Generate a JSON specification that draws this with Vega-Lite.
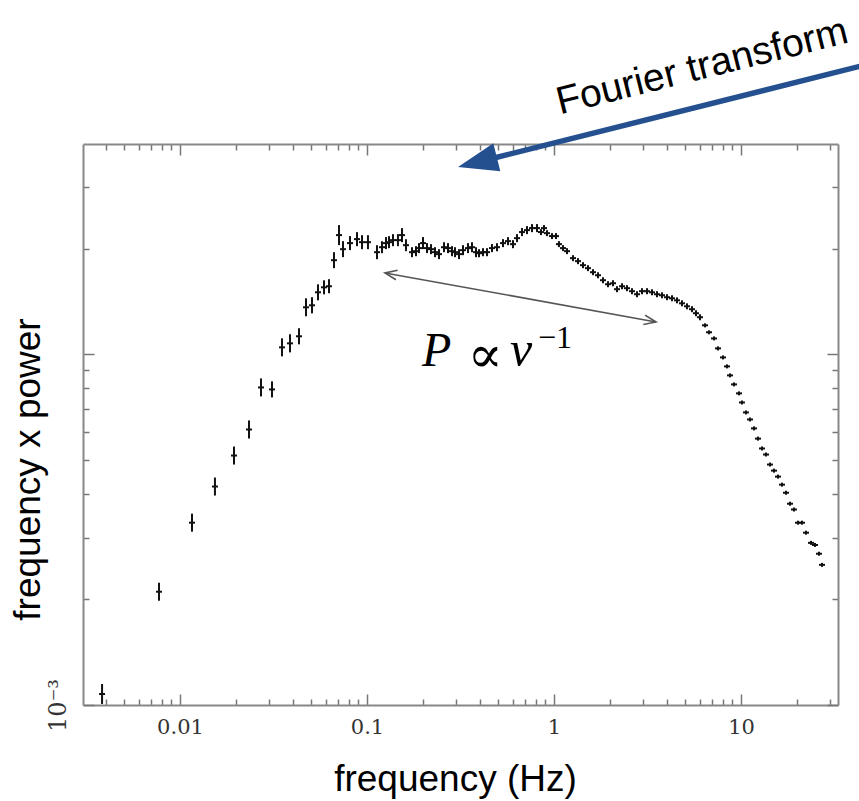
{
"$schema": "https://vega.github.io/schema/vega-lite/v6.json",
"width": 755, "height": 561,
"autosize": {"type": "none"},
"padding": {"left": 83, "top": 144, "right": 21, "bottom": 96},
"background": "white",
"config": {"view": {"stroke": null}},
"resolve": {"axis": {"x": "independent", "y": "independent"}},
"datasets": {"psd": [
{"f":0.00383,"v":0.001075,"lo":0.001007,"hi":0.001148},
{"f":0.00772,"v":0.002104,"lo":0.001983,"hi":0.002232},
{"f":0.01159,"v":0.003311,"lo":0.003121,"hi":0.003513},
{"f":0.01538,"v":0.004198,"lo":0.003957,"hi":0.004454},
{"f":0.01945,"v":0.005146,"lo":0.00485,"hi":0.00546},
{"f":0.02339,"v":0.006105,"lo":0.005754,"hi":0.006477},
{"f":0.02711,"v":0.008047,"lo":0.007584,"hi":0.008538},
{"f":0.03104,"v":0.007943,"lo":0.007535,"hi":0.008373},
{"f":0.03511,"v":0.01047,"lo":0.00987,"hi":0.01111},
{"f":0.03876,"v":0.01075,"lo":0.01013,"hi":0.01141},
{"f":0.04329,"v":0.01126,"lo":0.01068,"hi":0.01187},
{"f":0.04718,"v":0.01362,"lo":0.01284,"hi":0.01445},
{"f":0.0508,"v":0.0138,"lo":0.01309,"hi":0.01455},
{"f":0.0547,"v":0.01503,"lo":0.01426,"hi":0.01584},
{"f":0.05888,"v":0.01553,"lo":0.01483,"hi":0.01626},
{"f":0.06262,"v":0.01564,"lo":0.01494,"hi":0.01638},
{"f":0.06661,"v":0.01856,"lo":0.01761,"hi":0.01956},
{"f":0.07085,"v":0.02188,"lo":0.02049,"hi":0.02337},
{"f":0.0744,"v":0.01995,"lo":0.01893,"hi":0.02103},
{"f":0.08111,"v":0.02076,"lo":0.01983,"hi":0.02174},
{"f":0.08842,"v":0.02131,"lo":0.02035,"hi":0.02231},
{"f":0.09403,"v":0.02089,"lo":0.01995,"hi":0.02187},
{"f":0.1012,"v":0.02089,"lo":0.01995,"hi":0.02187},
{"f":0.1131,"v":0.01956,"lo":0.01868,"hi":0.02048},
{"f":0.1203,"v":0.02021,"lo":0.01943,"hi":0.02102},
{"f":0.1264,"v":0.02076,"lo":0.01996,"hi":0.0216},
{"f":0.1311,"v":0.02089,"lo":0.02008,"hi":0.02173},
{"f":0.1377,"v":0.02117,"lo":0.02035,"hi":0.02202},
{"f":0.1464,"v":0.02117,"lo":0.02035,"hi":0.02202},
{"f":0.1539,"v":0.02188,"lo":0.0209,"hi":0.02291},
{"f":0.1616,"v":0.02048,"lo":0.01969,"hi":0.0213},
{"f":0.174,"v":0.01956,"lo":0.01893,"hi":0.02021},
{"f":0.1828,"v":0.01969,"lo":0.01905,"hi":0.02035},
{"f":0.1897,"v":0.02009,"lo":0.01944,"hi":0.02076},
{"f":0.1993,"v":0.02076,"lo":0.01996,"hi":0.0216},
{"f":0.2094,"v":0.02009,"lo":0.01944,"hi":0.02076},
{"f":0.2199,"v":0.01995,"lo":0.01931,"hi":0.02062},
{"f":0.231,"v":0.01956,"lo":0.01893,"hi":0.02021},
{"f":0.2427,"v":0.01931,"lo":0.01869,"hi":0.01995},
{"f":0.2581,"v":0.02021,"lo":0.01956,"hi":0.02088},
{"f":0.2711,"v":0.02009,"lo":0.01944,"hi":0.02076},
{"f":0.2848,"v":0.01969,"lo":0.01905,"hi":0.02035},
{"f":0.2955,"v":0.01956,"lo":0.01893,"hi":0.02021},
{"f":0.3105,"v":0.01931,"lo":0.01869,"hi":0.01995},
{"f":0.3261,"v":0.01982,"lo":0.01918,"hi":0.02048},
{"f":0.3468,"v":0.02009,"lo":0.01944,"hi":0.02076},
{"f":0.3643,"v":0.02021,"lo":0.01956,"hi":0.02088},
{"f":0.3828,"v":0.01956,"lo":0.01893,"hi":0.02021},
{"f":0.3972,"v":0.01943,"lo":0.01892,"hi":0.01995},
{"f":0.4173,"v":0.01956,"lo":0.01905,"hi":0.02008},
{"f":0.4383,"v":0.01956,"lo":0.01905,"hi":0.02008},
{"f":0.4662,"v":0.02009,"lo":0.01957,"hi":0.02063},
{"f":0.4956,"v":0.02021,"lo":0.01968,"hi":0.02075},
{"f":0.5336,"v":0.02076,"lo":0.02022,"hi":0.02131},
{"f":0.5675,"v":0.02103,"lo":0.02048,"hi":0.02159},
{"f":0.6036,"v":0.02062,"lo":0.02008,"hi":0.02117},
{"f":0.6342,"v":0.02145,"lo":0.02089,"hi":0.02202},
{"f":0.6743,"v":0.02232,"lo":0.02174,"hi":0.02292},
{"f":0.7173,"v":0.02261,"lo":0.02202,"hi":0.02321},
{"f":0.7626,"v":0.02291,"lo":0.02231,"hi":0.02352},
{"f":0.8112,"v":0.02291,"lo":0.02231,"hi":0.02352},
{"f":0.852,"v":0.02232,"lo":0.02188,"hi":0.02276},
{"f":0.8842,"v":0.02291,"lo":0.02246,"hi":0.02337},
{"f":0.9175,"v":0.02216,"lo":0.02173,"hi":0.0226},
{"f":0.9757,"v":0.02174,"lo":0.02132,"hi":0.02217},
{"f":1.025,"v":0.02174,"lo":0.02132,"hi":0.02217},
{"f":1.063,"v":0.02062,"lo":0.02022,"hi":0.02103},
{"f":1.117,"v":0.02009,"lo":0.0197,"hi":0.02049},
{"f":1.174,"v":0.01969,"lo":0.01931,"hi":0.02008},
{"f":1.264,"v":0.01881,"lo":0.01844,"hi":0.01918},
{"f":1.344,"v":0.01844,"lo":0.01808,"hi":0.01881},
{"f":1.429,"v":0.01796,"lo":0.01761,"hi":0.01832},
{"f":1.52,"v":0.01761,"lo":0.01727,"hi":0.01796},
{"f":1.617,"v":0.01715,"lo":0.01682,"hi":0.01749},
{"f":1.719,"v":0.01681,"lo":0.01648,"hi":0.01714},
{"f":1.828,"v":0.01627,"lo":0.01595,"hi":0.01659},
{"f":1.945,"v":0.01585,"lo":0.01554,"hi":0.01617},
{"f":2.068,"v":0.01595,"lo":0.01564,"hi":0.01627},
{"f":2.173,"v":0.01534,"lo":0.01504,"hi":0.01565},
{"f":2.31,"v":0.01564,"lo":0.01533,"hi":0.01595},
{"f":2.457,"v":0.01544,"lo":0.01514,"hi":0.01575},
{"f":2.613,"v":0.01514,"lo":0.01484,"hi":0.01544},
{"f":2.779,"v":0.01484,"lo":0.01455,"hi":0.01514},
{"f":2.955,"v":0.01514,"lo":0.01484,"hi":0.01544},
{"f":3.143,"v":0.01514,"lo":0.01484,"hi":0.01544},
{"f":3.343,"v":0.01503,"lo":0.01474,"hi":0.01533},
{"f":3.555,"v":0.01484,"lo":0.01455,"hi":0.01514},
{"f":3.781,"v":0.01474,"lo":0.01445,"hi":0.01503},
{"f":4.021,"v":0.01455,"lo":0.01427,"hi":0.01484},
{"f":4.276,"v":0.01445,"lo":0.01417,"hi":0.01474},
{"f":4.548,"v":0.01426,"lo":0.01398,"hi":0.01454},
{"f":4.836,"v":0.01398,"lo":0.01371,"hi":0.01426},
{"f":5.143,"v":0.01371,"lo":0.01344,"hi":0.01398},
{"f":5.47,"v":0.01345,"lo":0.01319,"hi":0.01372},
{"f":5.746,"v":0.0131,"lo":0.01284,"hi":0.01336},
{"f":6.036,"v":0.01276,"lo":0.01251,"hi":0.01301},
{"f":6.42,"v":0.0121,"lo":0.01194,"hi":0.01226},
{"f":6.745,"v":0.01156,"lo":0.01141,"hi":0.01171},
{"f":7.173,"v":0.0111,"lo":0.01096,"hi":0.01125},
{"f":7.534,"v":0.0104,"lo":0.01026,"hi":0.01054},
{"f":8.012,"v":0.0098,"lo":0.009672,"hi":0.009929},
{"f":8.418,"v":0.00924,"lo":0.00912,"hi":0.009362},
{"f":8.735,"v":0.00871,"lo":0.008597,"hi":0.008825},
{"f":9.176,"v":0.00821,"lo":0.008103,"hi":0.008318},
{"f":9.757,"v":0.00774,"lo":0.007639,"hi":0.007842},
{"f":10.12,"v":0.00729,"lo":0.007195,"hi":0.007386},
{"f":10.63,"v":0.00683,"lo":0.006741,"hi":0.00692},
{"f":11.17,"v":0.00652,"lo":0.006435,"hi":0.006606},
{"f":11.74,"v":0.00615,"lo":0.00607,"hi":0.006231},
{"f":12.33,"v":0.00575,"lo":0.005675,"hi":0.005826},
{"f":12.95,"v":0.00539,"lo":0.00532,"hi":0.005461},
{"f":13.61,"v":0.00518,"lo":0.005113,"hi":0.005248},
{"f":14.29,"v":0.00485,"lo":0.004787,"hi":0.004914},
{"f":15.01,"v":0.00466,"lo":0.004599,"hi":0.004722},
{"f":15.77,"v":0.00448,"lo":0.004422,"hi":0.004539},
{"f":16.57,"v":0.00425,"lo":0.004195,"hi":0.004306},
{"f":17.4,"v":0.00403,"lo":0.003977,"hi":0.004083},
{"f":18.28,"v":0.00375,"lo":0.003701,"hi":0.0038},
{"f":19.2,"v":0.00361,"lo":0.003563,"hi":0.003658},
{"f":20.17,"v":0.00331,"lo":0.003267,"hi":0.003354},
{"f":21.2,"v":0.00331,"lo":0.003267,"hi":0.003354},
{"f":22.27,"v":0.0031,"lo":0.00306,"hi":0.003141},
{"f":23.68,"v":0.0029,"lo":0.002862,"hi":0.002938},
{"f":24.87,"v":0.00286,"lo":0.002823,"hi":0.002898},
{"f":26.13,"v":0.0027,"lo":0.002665,"hi":0.002736},
{"f":27.12,"v":0.00251,"lo":0.002477,"hi":0.002543}
]},
"layer": [
{
 "data": {"name": "psd"},
 "mark": {"type": "rule", "color": "#111111", "strokeWidth": 2},
 "encoding": {
  "x": {"field": "f", "type": "quantitative",
   "scale": {"type": "log", "domain": [0.003029, 33.02], "nice": false},
   "axis": {"orient": "bottom", "grid": false,
    "values": [0.004,0.005,0.006,0.007,0.008,0.009,0.01,0.02,0.03,0.04,0.05,0.06,0.07,0.08,0.09,0.1,0.2,0.3,0.4,0.5,0.6,0.7,0.8,0.9,1,2,3,4,5,6,7,8,9,10,20,30],
    "labelExpr": "datum.value == 0.01 ? '0.01' : datum.value == 0.1 ? '0.1' : datum.value == 1 ? '1' : datum.value == 10 ? '10' : ''",
    "labelFont": "DejaVu Serif", "labelFontSize": 21, "labelColor": "#333333", "labelPadding": 22,
    "labelOverlap": false, "labelFlush": false, "labelBound": false,
    "tickSize": {"condition": {"test": "datum.value == 0.01 || datum.value == 0.1 || datum.value == 1 || datum.value == 10", "value": -11}, "value": -6},
    "tickColor": "#777777", "tickWidth": 1.5,
    "domainColor": "#888888", "domainWidth": 2,
    "title": "frequency (Hz)", "titleFont": "Liberation Sans", "titleFontSize": 37, "titleFontWeight": "normal", "titleColor": "#000000",
    "titleX": 372, "titleY": 56, "titleBaseline": "top", "titleAlign": "center"}},
  "y": {"field": "lo", "type": "quantitative",
   "scale": {"type": "log", "domain": [0.001, 0.0398], "nice": false},
   "axis": {"orient": "left", "grid": false,
    "values": [0.001,0.002,0.003,0.004,0.005,0.006,0.007,0.008,0.009,0.01,0.02,0.03],
    "labelExpr": "datum.value == 0.001 ? '10⁻³' : ''",
    "labelAngle": 270,
    "labelFont": "DejaVu Serif", "labelFontSize": 24, "labelColor": "#333333", "labelPadding": 24,
    "labelOverlap": false, "labelFlush": false, "labelBound": false,
    "tickSize": {"condition": {"test": "datum.value == 0.001 || datum.value == 0.01", "value": -11}, "value": -6},
    "tickColor": "#777777", "tickWidth": 1.5,
    "domainColor": "#888888", "domainWidth": 2,
    "title": "frequency x power", "titleFont": "Liberation Sans", "titleFontSize": 37, "titleFontWeight": "normal", "titleColor": "#000000",
    "titleX": -36, "titleY": 325, "titleAngle": 270, "titleBaseline": "bottom", "titleAlign": "center"}},
  "y2": {"field": "hi"}
 }
},
{
 "data": {"name": "psd"},
 "mark": {"type": "point", "shape": "stroke", "size": 36, "filled": false, "color": "#111111", "strokeWidth": 2, "opacity": 1},
 "encoding": {
  "x": {"field": "f", "type": "quantitative",
   "scale": {"type": "log", "domain": [0.003029, 33.02], "nice": false},
   "axis": {"orient": "top", "grid": false, "labels": false, "title": null,
    "values": [0.004,0.005,0.006,0.007,0.008,0.009,0.01,0.02,0.03,0.04,0.05,0.06,0.07,0.08,0.09,0.1,0.2,0.3,0.4,0.5,0.6,0.7,0.8,0.9,1,2,3,4,5,6,7,8,9,10,20,30],
    "tickSize": {"condition": {"test": "datum.value == 0.01 || datum.value == 0.1 || datum.value == 1 || datum.value == 10", "value": -11}, "value": -6},
    "tickColor": "#777777", "tickWidth": 1.5,
    "domainColor": "#888888", "domainWidth": 2}},
  "y": {"field": "v", "type": "quantitative",
   "scale": {"type": "log", "domain": [0.001, 0.0398], "nice": false},
   "axis": {"orient": "right", "grid": false, "labels": false, "title": null,
    "values": [0.001,0.002,0.003,0.004,0.005,0.006,0.007,0.008,0.009,0.01,0.02,0.03],
    "tickSize": {"condition": {"test": "datum.value == 0.001 || datum.value == 0.01", "value": -11}, "value": -6},
    "tickColor": "#777777", "tickWidth": 1.5,
    "domainColor": "#888888", "domainWidth": 2}}
 }
},
{
 "data": {"values": [{}]},
 "mark": {"type": "rule", "color": "#24508f", "strokeWidth": 5.5},
 "encoding": {
  "x": {"datum": 0.4662, "type": "quantitative", "scale": {"type": "log", "domain": [0.003029, 33.02], "nice": false}, "axis": null},
  "y": {"datum": 0.03619, "type": "quantitative", "scale": {"type": "log", "domain": [0.001, 0.0398], "nice": false}, "axis": null},
  "x2": {"datum": 48.97},
  "y2": {"datum": 0.06741}
 }
},
{
 "data": {"values": [{}]},
 "mark": {"type": "point", "shape": "M0,0L1,-0.36L1,0.36Z", "filled": true, "color": "#24508f", "size": 6400, "angle": 346, "opacity": 1},
 "encoding": {
  "x": {"datum": 0.3067, "type": "quantitative", "scale": {"type": "log", "domain": [0.003029, 33.02], "nice": false}, "axis": null},
  "y": {"datum": 0.03422, "type": "quantitative", "scale": {"type": "log", "domain": [0.001, 0.0398], "nice": false}, "axis": null}
 }
},
{
 "data": {"values": [{}]},
 "mark": {"type": "rule", "color": "#555555", "strokeWidth": 1.6},
 "encoding": {
  "x": {"datum": 0.1248, "type": "quantitative", "scale": {"type": "log", "domain": [0.003029, 33.02], "nice": false}, "axis": null},
  "y": {"datum": 0.01707, "type": "quantitative", "scale": {"type": "log", "domain": [0.001, 0.0398], "nice": false}, "axis": null},
  "x2": {"datum": 3.512},
  "y2": {"datum": 0.01237}
 }
},
{
 "data": {"values": [{}]},
 "mark": {"type": "point", "shape": "M1,-0.4L0,0L1,0.4", "filled": false, "color": "#555555", "strokeWidth": 1.6, "size": 576, "angle": 10.25, "opacity": 1},
 "encoding": {
  "x": {"datum": 0.1248, "type": "quantitative", "scale": {"type": "log", "domain": [0.003029, 33.02], "nice": false}, "axis": null},
  "y": {"datum": 0.01707, "type": "quantitative", "scale": {"type": "log", "domain": [0.001, 0.0398], "nice": false}, "axis": null}
 }
},
{
 "data": {"values": [{}]},
 "mark": {"type": "point", "shape": "M1,-0.4L0,0L1,0.4", "filled": false, "color": "#555555", "strokeWidth": 1.6, "size": 576, "angle": 190.25, "opacity": 1},
 "encoding": {
  "x": {"datum": 3.512, "type": "quantitative", "scale": {"type": "log", "domain": [0.003029, 33.02], "nice": false}, "axis": null},
  "y": {"datum": 0.01237, "type": "quantitative", "scale": {"type": "log", "domain": [0.001, 0.0398], "nice": false}, "axis": null}
 }
},
{
 "data": {"values": [{}]},
 "mark": {"type": "text", "text": "Fourier transform", "font": "Liberation Sans", "fontSize": 39, "color": "#000000", "angle": 346, "align": "center", "baseline": "alphabetic"},
 "encoding": {
  "x": {"datum": 6.42, "type": "quantitative", "scale": {"type": "log", "domain": [0.003029, 33.02], "nice": false}, "axis": null},
  "y": {"datum": 0.06124, "type": "quantitative", "scale": {"type": "log", "domain": [0.001, 0.0398], "nice": false}, "axis": null}
 }
},
{
 "data": {"values": [{}]},
 "mark": {"type": "text", "text": "P", "font": "Liberation Serif", "fontStyle": "italic", "fontSize": 48, "color": "#000000", "align": "left", "baseline": "alphabetic"},
 "encoding": {
  "x": {"datum": 0.1968, "type": "quantitative", "scale": {"type": "log", "domain": [0.003029, 33.02], "nice": false}, "axis": null},
  "y": {"datum": 0.00924, "type": "quantitative", "scale": {"type": "log", "domain": [0.001, 0.0398], "nice": false}, "axis": null}
 }
},
{
 "data": {"values": [{}]},
 "mark": {"type": "text", "text": "∝", "font": "DejaVu Serif", "fontSize": 52, "color": "#000000", "align": "center", "baseline": "alphabetic"},
 "encoding": {
  "x": {"datum": 0.4276, "type": "quantitative", "scale": {"type": "log", "domain": [0.003029, 33.02], "nice": false}, "axis": null},
  "y": {"datum": 0.00888, "type": "quantitative", "scale": {"type": "log", "domain": [0.001, 0.0398], "nice": false}, "axis": null}
 }
},
{
 "data": {"values": [{}]},
 "mark": {"type": "text", "text": "ν", "font": "Liberation Serif", "fontStyle": "italic", "fontSize": 50, "color": "#000000", "align": "left", "baseline": "alphabetic"},
 "encoding": {
  "x": {"datum": 0.5816, "type": "quantitative", "scale": {"type": "log", "domain": [0.003029, 33.02], "nice": false}, "axis": null},
  "y": {"datum": 0.00924, "type": "quantitative", "scale": {"type": "log", "domain": [0.001, 0.0398], "nice": false}, "axis": null}
 }
},
{
 "data": {"values": [{}]},
 "mark": {"type": "text", "text": "−1", "font": "Liberation Serif", "fontSize": 32, "color": "#000000", "align": "left", "baseline": "alphabetic"},
 "encoding": {
  "x": {"datum": 0.821, "type": "quantitative", "scale": {"type": "log", "domain": [0.003029, 33.02], "nice": false}, "axis": null},
  "y": {"datum": 0.0104, "type": "quantitative", "scale": {"type": "log", "domain": [0.001, 0.0398], "nice": false}, "axis": null}
 }
}
]
}
